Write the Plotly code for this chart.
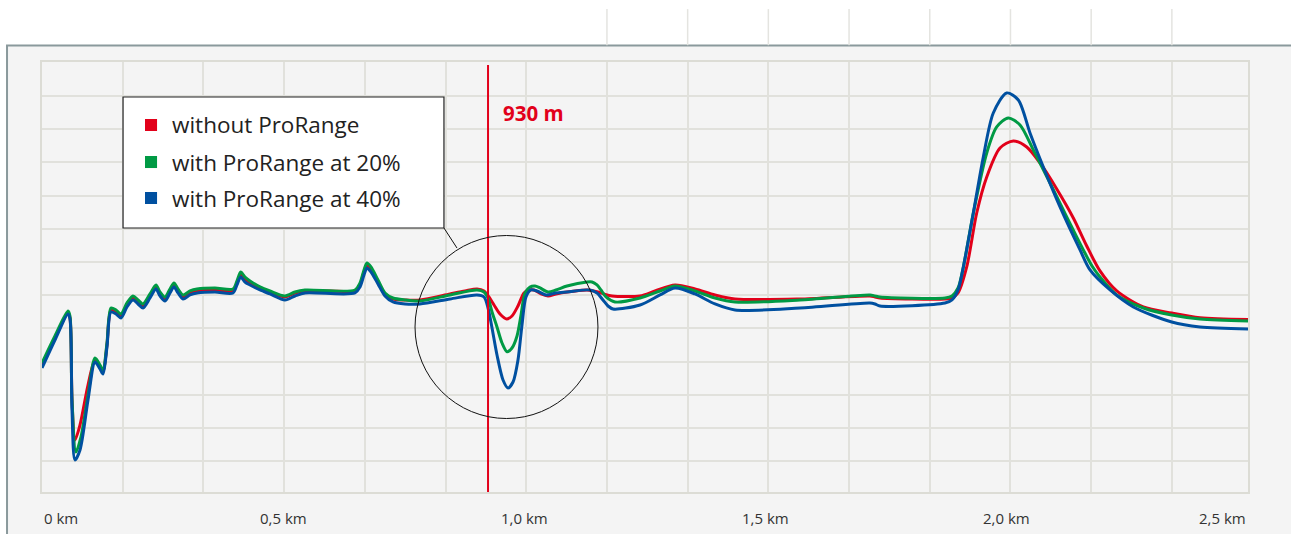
import plotly.graph_objects as go

# ---- data (distance in metres, level in arbitrary units) ----
dist_red = [0, 26.9, 53.9, 58.0, 62.2, 68.4, 78.8, 95.4, 109.9, 120.2, 126.5, 134.7, 143.0, 153.4, 163.8,
            176.2, 188.6, 199.0, 209.4, 223.9, 236.3, 244.6, 255.0, 265.3, 273.6, 281.9, 292.3, 306.8, 321.3,
            358.6, 395.9, 404.2, 411.9, 420.8, 431.2, 451.9, 472.6, 503.7, 524.5, 545.2, 597.0, 648.8, 659.2,
            667.5, 673.7, 682.0, 696.5, 711.0, 727.6, 752.5, 783.6, 845.8, 876.9, 901.8, 916.3, 926.6, 937.0,
            949.4, 963.3, 974.3, 986.7, 999.2, 1009.6, 1019.9, 1034.4, 1048.9, 1065.5, 1088.3, 1129.8, 1152.6,
            1165.0, 1181.6, 1239.7, 1270.7, 1312.2, 1353.7, 1395.1, 1436.6, 1571.3, 1716.4, 1726.8, 1737.2,
            1871.9, 1886.4, 1898.9, 1916.9, 1937.6, 1958.4, 1985.9, 2013.5, 2041.3, 2068.9, 2103.5, 2137.9,
            2165.7, 2193.2, 2227.9, 2283.0, 2341.9, 2400.5, 2500.0]
level_red = [38.25, 46.38, 53.91, 52.41, 27.71, 15.66, 20.18, 32.23, 39.76, 37.65, 36.14, 44.28, 54.82, 54.22,
             53.01, 56.32, 58.43, 57.23, 56.02, 59.04, 61.75, 59.64, 58.13, 60.54, 62.35, 60.54, 58.73, 59.94,
             60.54, 60.84, 60.54, 62.95, 65.66, 64.16, 62.95, 61.44, 60.24, 58.73, 59.94, 60.54, 60.54, 60.54,
             62.35, 66.26, 68.37, 67.17, 63.25, 59.64, 58.13, 57.83, 57.83, 59.64, 60.54, 61.14, 60.54, 58.73,
             56.32, 53.61, 52.11, 53.01, 56.02, 59.94, 60.84, 60.84, 59.64, 59.04, 59.64, 60.24, 60.84, 60.24,
             59.64, 59.04, 59.04, 60.54, 62.35, 61.14, 59.34, 58.13, 58.13, 59.04, 58.73, 58.43, 58.13, 58.43,
             59.94, 67.77, 84.03, 94.88, 103.61, 105.72, 103.91, 99.09, 91.26, 82.53, 74.09, 66.57, 60.54,
             55.72, 53.91, 52.50, 51.96]

dist_green = [0, 26.9, 53.9, 58.0, 62.2, 70.5, 80.8, 95.4, 109.9, 120.2, 126.5, 134.7, 143.0, 153.4, 163.8,
              176.2, 188.6, 199.0, 209.4, 223.9, 236.3, 244.6, 255.0, 265.3, 273.6, 281.9, 292.3, 306.8, 321.3,
              358.6, 395.9, 404.2, 411.9, 420.8, 431.2, 451.9, 472.6, 503.7, 524.5, 545.2, 648.8, 659.2, 667.5,
              673.7, 682.0, 696.5, 711.0, 727.6, 752.5, 783.6, 845.8, 901.8, 916.3, 924.6, 932.9, 943.2, 953.6,
              964.0, 974.3, 984.7, 993.0, 1001.3, 1011.6, 1022.0, 1032.4, 1048.9, 1065.5, 1088.3, 1129.8, 1140.2,
              1150.5, 1158.8, 1169.2, 1187.8, 1239.7, 1281.1, 1312.2, 1353.7, 1395.1, 1436.6, 1571.3, 1716.4,
              1726.8, 1737.2, 1871.9, 1886.4, 1898.9, 1909.9, 1930.6, 1958.4, 1979.1, 2003.1, 2027.4, 2055.0,
              2089.6, 2124.2, 2158.6, 2176.7, 2193.2, 2227.9, 2283.0, 2341.9, 2400.5, 2500.0]
level_green = [38.86, 46.99, 54.52, 53.01, 27.71, 12.05, 16.57, 29.22, 40.36, 38.25, 36.45, 44.88, 55.42, 54.82,
               53.61, 56.93, 59.04, 57.83, 56.63, 59.64, 62.35, 60.24, 58.73, 61.14, 62.95, 61.14, 59.34, 60.54,
               61.14, 61.44, 61.14, 63.55, 66.26, 64.76, 63.55, 61.75, 60.54, 59.04, 60.24, 60.84, 60.84, 62.95,
               66.87, 68.97, 67.77, 63.85, 59.94, 58.43, 57.83, 57.53, 59.34, 60.84, 60.24, 58.43, 54.22, 49.70,
               44.88, 42.26, 43.37, 46.99, 53.31, 59.94, 61.75, 62.05, 61.44, 60.24, 60.84, 62.05, 63.25, 63.25,
               62.35, 60.84, 58.73, 57.23, 58.43, 60.54, 62.05, 60.54, 58.43, 57.23, 57.83, 59.34, 59.04, 58.73,
               58.43, 59.04, 61.44, 67.77, 84.03, 102.11, 109.94, 112.65, 110.54, 103.01, 93.07, 82.83, 72.89,
               68.07, 64.76, 59.34, 55.42, 53.31, 52.11, 51.51]

dist_blue = [0, 26.9, 53.9, 58.0, 62.2, 68.4, 78.8, 95.4, 109.9, 120.2, 126.5, 134.7, 143.0, 153.4, 163.8,
             176.2, 188.6, 199.0, 209.4, 223.9, 236.3, 244.6, 255.0, 265.3, 273.6, 281.9, 292.3, 306.8, 321.3,
             358.6, 395.9, 404.2, 411.9, 420.8, 431.2, 451.9, 472.6, 503.7, 524.5, 545.2, 648.8, 659.2, 667.5,
             673.7, 682.0, 696.5, 711.0, 727.6, 752.5, 783.6, 845.8, 901.8, 916.3, 924.6, 932.9, 943.2, 955.7,
             966.0, 976.4, 986.7, 995.0, 1003.3, 1013.7, 1026.1, 1044.8, 1065.5, 1088.3, 1136.0, 1150.5, 1162.9,
             1173.3, 1183.7, 1239.7, 1281.1, 1312.2, 1353.7, 1395.1, 1436.6, 1571.3, 1716.4, 1726.8, 1737.2,
             1871.9, 1886.4, 1898.9, 1909.9, 1930.6, 1951.3, 1972.0, 1999.8, 2023.9, 2048.1, 2075.7, 2110.3,
             2151.8, 2172.5, 2214.0, 2262.3, 2341.9, 2400.5, 2500.0]
level_blue = [37.35, 45.78, 53.61, 52.11, 24.70, 9.64, 12.65, 27.71, 39.16, 37.05, 35.54, 43.67, 54.22, 53.61,
              52.41, 55.72, 57.83, 56.63, 55.42, 58.43, 61.14, 59.04, 57.53, 59.94, 61.75, 59.94, 58.13, 59.34,
              59.94, 60.24, 59.94, 62.35, 64.76, 63.25, 62.35, 60.84, 59.64, 57.83, 59.04, 59.94, 59.94, 61.75,
              65.36, 67.47, 66.26, 62.65, 59.04, 57.23, 56.63, 56.63, 58.13, 59.34, 58.73, 55.42, 49.40, 41.26,
              33.73, 31.32, 33.13, 39.76, 50.30, 58.73, 60.84, 60.54, 59.34, 59.94, 60.24, 60.84, 59.94, 57.83,
              56.02, 55.12, 56.32, 59.34, 61.44, 59.64, 56.63, 54.82, 55.42, 56.93, 56.63, 56.02, 56.93, 57.83,
              60.84, 67.77, 84.03, 100.90, 114.15, 120.18, 118.07, 108.13, 97.89, 85.84, 72.89, 66.87, 60.84,
              55.72, 51.20, 49.70, 49.10]

series_names = ["without ProRange", "with ProRange at 20%", "with ProRange at 40%"]
series_colors = ["#e2001a", "#009a44", "#0050a0"]

tick_values = [0, 500, 1000, 1500, 2000, 2500]
tick_labels = ["0 km", "0,5 km", "1,0 km", "1,5 km", "2,0 km", "2,5 km"]

marker_pos = 924.6
marker_label = "930 m"

X_MAX = 2500
Y_MAX = 129.5
GRID_DX = 167.3

fig = go.Figure()
for xs, ys, name, col in zip([dist_red, dist_green, dist_blue],
                             [level_red, level_green, level_blue],
                             series_names, series_colors):
    fig.add_trace(go.Scatter(x=xs, y=ys, mode="lines", name=name,
                             line=dict(color=col, width=3, shape="spline", smoothing=0.8),
                             showlegend=False, hoverinfo="skip"))

shapes = []
# outer frame
shapes.append(dict(type="rect", xref="paper", yref="paper", x0=-0.029, x1=1.05, y0=-0.2, y1=1.0384,
                   fillcolor="#f4f4f4", line=dict(color="#8a999c", width=2), layer="below"))
# stray grid lines above the frame
for k in range(7, 15):
    px = k * GRID_DX / X_MAX
    shapes.append(dict(type="line", xref="paper", yref="paper", x0=px, x1=px, y0=1.039, y1=1.123,
                       line=dict(color="#e4e4e0", width=1.5), layer="below"))
# marker line
shapes.append(dict(type="line", xref="x", yref="paper", x0=marker_pos, x1=marker_pos, y0=0, y1=0.993,
                   line=dict(color="#e2001a", width=2)))
# circle
shapes.append(dict(type="circle", xref="paper", yref="paper", x0=0.3093, x1=0.461, y0=0.1709, y1=0.5965,
                   line=dict(color="#111111", width=1)))
# connector
shapes.append(dict(type="line", xref="paper", yref="paper", x0=0.3333, y0=0.614, x1=0.3441, y1=0.5674,
                   line=dict(color="#111111", width=1)))
# legend box
shapes.append(dict(type="rect", xref="paper", yref="paper", x0=0.0672, x1=0.3333, y0=0.614, y1=0.9186,
                   fillcolor="white", line=dict(color="#222222", width=1.2)))
leg_y = [0.8535, 0.7674, 0.6837]
for yc, col in zip(leg_y, series_colors):
    shapes.append(dict(type="rect", xref="paper", yref="paper", x0=0.0854, x1=0.0954,
                       y0=yc - 0.0140, y1=yc + 0.0140, fillcolor=col, line=dict(width=0)))

annotations = []
for yc, name in zip(leg_y, series_names):
    annotations.append(dict(xref="paper", yref="paper", x=0.1065, y=yc, text=name, showarrow=False,
                            xanchor="left", yanchor="middle",
                            font=dict(family="Open Sans", size=22.5, color="#222222")))
annotations.append(dict(xref="paper", yref="paper", x=0.3806, y=0.8814, text="<b>%s</b>" % marker_label,
                        showarrow=False, xanchor="left", yanchor="middle",
                        font=dict(family="Open Sans", size=20.5, color="#e2001a")))
for i, (tv, tl) in enumerate(zip(tick_values, tick_labels)):
    anchor = "left" if i == 0 else ("right" if i == len(tick_values) - 1 else "center")
    annotations.append(dict(xref="x", yref="paper", x=tv, y=-0.0605, text=tl, showarrow=False,
                            xanchor=anchor, yanchor="middle",
                            font=dict(family="Open Sans", size=15, color="#333333")))

fig.update_layout(
    width=1291, height=534,
    margin=dict(l=42, r=43, t=62, b=42),
    paper_bgcolor="white", plot_bgcolor="#f4f4f4",
    shapes=shapes, annotations=annotations, showlegend=False,
    xaxis=dict(range=[0, X_MAX], showticklabels=False, ticks="", tick0=0, dtick=GRID_DX,
               showgrid=True, gridcolor="#e1e1dc", gridwidth=1.5, zeroline=False,
               showline=True, linecolor="#dcdcd5", linewidth=2, mirror=True, fixedrange=True),
    yaxis=dict(range=[0, Y_MAX], showticklabels=False, ticks="", tick0=9.28, dtick=10,
               showgrid=True, gridcolor="#e1e1dc", gridwidth=1.5, zeroline=False,
               showline=True, linecolor="#dcdcd5", linewidth=2, mirror=True, fixedrange=True),
)

fig.write_html("out.html", config={"displayModeBar": False},
               post_script="document.body.style.margin='0';document.body.style.overflow='hidden';")
